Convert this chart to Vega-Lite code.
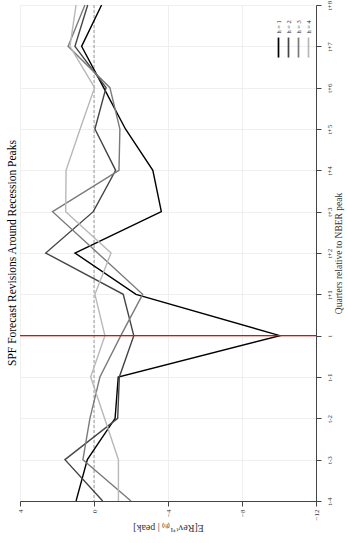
{
  "$schema": "https://vega.github.io/schema/vega-lite/v6.json",
  "width": 296,
  "height": 496,
  "autosize": {"type": "none"},
  "padding": {"left": 20, "top": 5, "right": 31, "bottom": 42},
  "background": "white",
  "title": {"text": "SPF Forecast Revisions Around Recession Peaks", "orient": "left", "anchor": "middle", "font": "Liberation Serif", "fontSize": 11.5, "fontWeight": "normal", "color": "#000", "offset": -2},
  "config": {
    "view": {"stroke": null},
    "axis": {"domainColor": "#444", "tickColor": "#444", "gridColor": "#ebebeb", "gridWidth": 0.8, "labelFont": "Liberation Serif", "titleFont": "Liberation Serif", "labelColor": "#333", "titleColor": "#333", "titleFontWeight": "normal", "domainWidth": 1, "tickWidth": 1}
  },
  "datasets": {
    "series": [
      {"h": "h = 1", "q": -4, "rev": 0.97}, {"h": "h = 1", "q": -3, "rev": 0.36}, {"h": "h = 1", "q": -2, "rev": -1.14}, {"h": "h = 1", "q": -1, "rev": -1.31}, {"h": "h = 1", "q": 0, "rev": -10.05}, {"h": "h = 1", "q": 1, "rev": -2.27}, {"h": "h = 1", "q": 2, "rev": 1.03}, {"h": "h = 1", "q": 3, "rev": -3.64}, {"h": "h = 1", "q": 4, "rev": -3.18}, {"h": "h = 1", "q": 5, "rev": -1.7}, {"h": "h = 1", "q": 6, "rev": -0.52}, {"h": "h = 1", "q": 7, "rev": 0.67}, {"h": "h = 1", "q": 8, "rev": -0.41},
      {"h": "h = 2", "q": -4, "rev": -0.47}, {"h": "h = 2", "q": -3, "rev": 1.57}, {"h": "h = 2", "q": -2, "rev": -1.28}, {"h": "h = 2", "q": -1, "rev": -1.37}, {"h": "h = 2", "q": 0, "rev": -2.15}, {"h": "h = 2", "q": 1, "rev": -1.58}, {"h": "h = 2", "q": 2, "rev": 2.61}, {"h": "h = 2", "q": 3, "rev": 0.04}, {"h": "h = 2", "q": 4, "rev": -1.17}, {"h": "h = 2", "q": 5, "rev": -0.05}, {"h": "h = 2", "q": 6, "rev": -0.65}, {"h": "h = 2", "q": 7, "rev": 1.03}, {"h": "h = 2", "q": 8, "rev": 0.34},
      {"h": "h = 3", "q": -4, "rev": -2.0}, {"h": "h = 3", "q": -3, "rev": 0.6}, {"h": "h = 3", "q": -2, "rev": 0.22}, {"h": "h = 3", "q": -1, "rev": -0.32}, {"h": "h = 3", "q": 0, "rev": -1.45}, {"h": "h = 3", "q": 1, "rev": -2.63}, {"h": "h = 3", "q": 2, "rev": -0.2}, {"h": "h = 3", "q": 3, "rev": 2.24}, {"h": "h = 3", "q": 4, "rev": -1.35}, {"h": "h = 3", "q": 5, "rev": -1.4}, {"h": "h = 3", "q": 6, "rev": -0.86}, {"h": "h = 3", "q": 7, "rev": 1.4}, {"h": "h = 3", "q": 8, "rev": 0.49},
      {"h": "h = 4", "q": -4, "rev": -1.32}, {"h": "h = 4", "q": -3, "rev": -1.32}, {"h": "h = 4", "q": -2, "rev": -0.57}, {"h": "h = 4", "q": -1, "rev": 0.18}, {"h": "h = 4", "q": 0, "rev": -0.59}, {"h": "h = 4", "q": 1, "rev": -0.05}, {"h": "h = 4", "q": 2, "rev": -0.92}, {"h": "h = 4", "q": 3, "rev": 1.53}, {"h": "h = 4", "q": 4, "rev": 1.51}, {"h": "h = 4", "q": 5, "rev": 0.75}, {"h": "h = 4", "q": 6, "rev": -0.03}, {"h": "h = 4", "q": 7, "rev": 1.3}, {"h": "h = 4", "q": 8, "rev": 0.97}
    ],
    "zero": [{"rev": 0}],
    "peak": [{"q": 0}]
  },
  "layer": [
    {
      "data": {"name": "zero"},
      "mark": {"type": "rule", "strokeDash": [3, 2], "color": "#9a9a9a", "strokeWidth": 1},
      "encoding": {"x": {"field": "rev", "type": "quantitative"}}
    },
    {
      "data": {"name": "series"},
      "mark": {"type": "line", "strokeWidth": 1.4},
      "encoding": {
        "x": {"field": "rev", "type": "quantitative",
          "scale": {"domain": [-12, 4], "reverse": true, "nice": false, "zero": false},
          "axis": {"orient": "bottom", "values": [-12, -10, -8, -6, -4, -2, 0, 2, 4], "title": "E[Revᵗ⁺¹₍ₕ₎ | peak]", "titleAngle": 180, "titleBaseline": "bottom", "titleFontSize": 10, "titlePadding": 3, "labelAngle": -90, "labelAlign": "right", "labelBaseline": "middle", "labelFontSize": 7, "tickSize": 5, "labelPadding": 3, "grid": true}},
        "y": {"field": "q", "type": "quantitative",
          "scale": {"domain": [-4, 8], "nice": false, "zero": false},
          "axis": {"orient": "right", "values": [-4, -3, -2, -1, 0, 1, 2, 3, 4, 5, 6, 7, 8], "labelExpr": "datum.value == 0 ? 't' : (datum.value > 0 ? 't+' + datum.value : 't' + datum.value)", "labelAngle": 270, "labelAlign": "center", "labelBaseline": "top", "labelFontSize": 7, "tickSize": 5, "labelPadding": 4, "title": "Quarters relative to NBER peak", "titleAngle": 270, "titleBaseline": "top", "titleFontSize": 9.5, "titlePadding": 1, "grid": true}},
        "color": {"field": "h", "type": "nominal",
          "scale": {"domain": ["h = 1", "h = 2", "h = 3", "h = 4"], "range": ["#000000", "#444444", "#7a7a7a", "#b8b8b8"]},
          "legend": {"title": null, "orient": "none", "legendX": 255, "legendY": 39, "direction": "horizontal", "columns": 4, "columnPadding": 2, "symbolType": "M0,-4L0,4", "symbolSize": 25, "symbolStrokeWidth": 1.7, "labelFont": "Liberation Serif", "labelFontSize": 6.5, "labelOffset": 0, "labelColor": "#222", "padding": 0,
            "encode": {"labels": {"update": {"angle": {"value": -90}, "dx": {"value": 14}, "dy": {"value": -3.5}}}}}},
        "order": {"field": "q", "type": "quantitative"}
      }
    },
    {
      "data": {"name": "peak"},
      "mark": {"type": "rule", "color": "#ff0000", "strokeWidth": 1.1},
      "encoding": {"y": {"field": "q", "type": "quantitative"}}
    }
  ]
}
